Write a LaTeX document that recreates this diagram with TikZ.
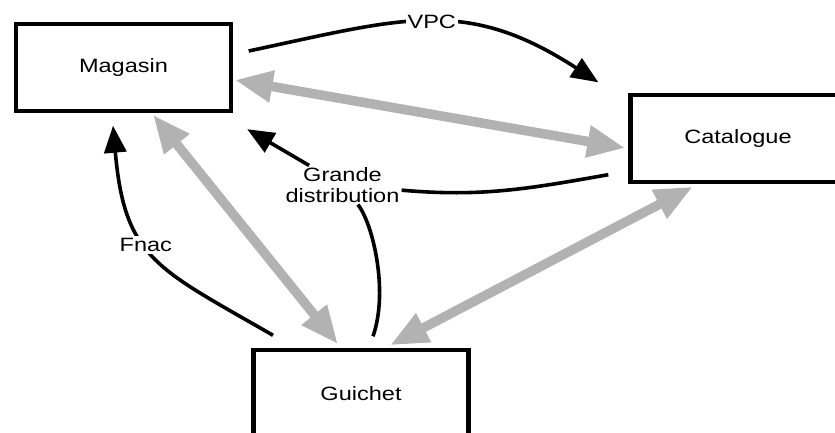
\documentclass[tikz,border=0pt]{standalone}
\usepackage{fontspec}
\setmainfont{Liberation Sans}[FakeStretch=1.22]
\usetikzlibrary{arrows.meta}

\begin{document}
\begin{tikzpicture}[
    x=1pt, y=1pt,
    font=\fontsize{19.3}{20.5}\selectfont,
    place/.style={draw, line width=4.4pt, minimum width=215pt,
                  minimum height=87pt},
    tag/.style={fill=white, inner sep=2pt, align=center},
    sale/.style={-{Triangle[length=27pt, width=22pt]}, line width=3.6pt},
    link/.style={{Triangle[length=38pt, width=30pt]}-{Triangle[length=38pt, width=30pt]},
                 line width=9.5pt, black!30}
]
\useasboundingbox (0,0) rectangle (835,433);
\clip (0,0) rectangle (835,433);

\node[place] (mag) at (123.5,365.5) {Magasin};
\node[place] (cat) at (738,294.5)   {Catalogue};
\node[place] (gui) at (361,39.5)    {Guichet};
\node[inner sep=2pt, align=center] (gd) at (342.5,248) {Grande\\distribution};

\draw[link] ([shift={(1.5pt,-12.5pt)}]mag.east)  -- ([shift={(-3pt,-9.5pt)}]cat.west);
\draw[link] ([shift={(29.5pt,-1.5pt)}]mag.south) -- ([shift={(-23pt,3.5pt)}]gui.north);
\draw[link] ([shift={(29pt,2.5pt)}]gui.north)    -- ([shift={(-45pt,-2.5pt)}]cat.south);

\draw[sale] ([shift={(15.5pt,16.5pt)}]mag.east)
    to[out=12, in=147, looseness=1.15] node[tag] (vpc) {VPC}
    ([shift={(-30pt,10.5pt)}]cat.north west);
\draw[sale] ([shift={(-88pt,12.5pt)}]gui.north)
    to[out=150, in=-85, looseness=1.3] node[tag, pos=0.56] (fnac) {Fnac}
    ([shift={(-10.5pt,-12.5pt)}]mag.south);
\draw[line width=3.6pt] ([shift={(-20pt,9.5pt)}]cat.south west) to[out=190, in=-5] (gd);
\draw[line width=3.6pt] ([shift={(12pt,11.5pt)}]gui.north)
    .. controls +(16pt,46pt) and +(30pt,-38pt) .. (gd);
\draw[sale] (gd) -- ([shift={(14pt,-16pt)}]mag.south east);
\end{tikzpicture}
\end{document}
